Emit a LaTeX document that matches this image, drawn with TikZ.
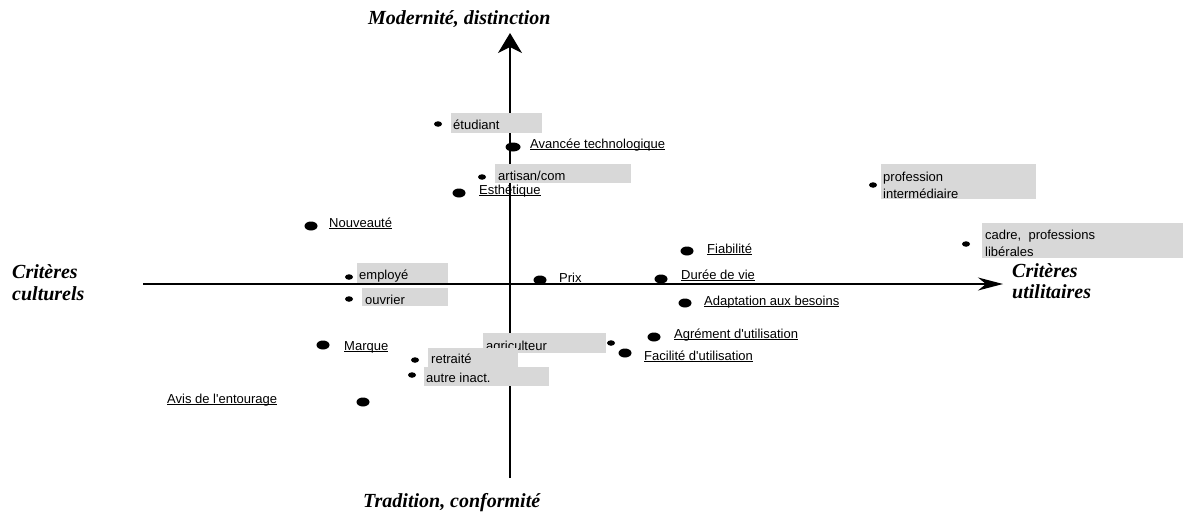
\documentclass[tikz,border=0pt]{standalone}
\usepackage{fontspec}
\setmainfont{Liberation Sans}
\newfontfamily\axisfont{Liberation Serif}
\usetikzlibrary{arrows.meta,shapes.geometric}
\newcommand\ulin[1]{\setbox0\hbox{#1}\rlap{\rule[-2.2pt]{\wd0}{0.9pt}}\box0}
\newcommand\apos{\textquotesingle}
\definecolor{boxgray}{RGB}{216,216,216}
\tikzset{
  lab/.style={anchor=base west, inner sep=0pt, font=\fontsize{13}{15}\selectfont},
  axlab/.style={anchor=base west, inner sep=0pt, font=\axisfont\bfseries\itshape\fontsize{20}{22}\selectfont},
  bigdot/.style={ellipse, fill=black, inner sep=0pt, minimum width=13pt, minimum height=9pt},
  smalldot/.style={ellipse, fill=black, inner sep=0pt, minimum width=8pt, minimum height=5.5pt},
  axisline/.style={line width=1.5pt},
  graybox/.style={fill=boxgray},
}
\begin{document}
\begin{tikzpicture}[x=1pt,y=-1pt]
\useasboundingbox (0,0) rectangle (1183,519);
% axes
\coordinate (xl) at (143,284);
\coordinate (xr) at (1003,284);
\coordinate (yb) at (510,478);
\coordinate (yt) at (510,33);
\draw[axisline,-{Stealth[length=25pt,width=13pt,inset=8pt]}] (xl) -- (xr);
\draw[axisline,-{Stealth[length=20pt,width=24pt,inset=6pt]}] (yb) -- (yt);
% axis labels
\node[axlab] (top) at (368,25) {Modernité, distinction};
\node[axlab] (bot) at (363,507) {Tradition, conformité};
\node[axlab] (l1) at (12,278) {Critères};
\node[axlab] (l2) at (12,300) {culturels};
\node[axlab] (r1) at (1012,277) {Critères};
\node[axlab] (r2) at (1012,298) {utilitaires};
% gray boxes (social categories)
\fill[graybox] (451,113) rectangle (542,133);
\node[lab] (t-etu) at (453,129) {étudiant};
\fill[graybox] (495,164) rectangle (631,183);
\node[lab] (t-art) at (498,180) {artisan/com};
\fill[graybox] (357,263) rectangle (448,283);
\node[lab] (t-emp) at (359,279) {employé};
\fill[graybox] (362,288) rectangle (448,306);
\node[lab] (t-ouv) at (365,304) {ouvrier};
\fill[graybox] (483,333) rectangle (606,353);
\node[lab] (t-agri) at (486,350) {agriculteur};
\fill[graybox] (428,348) rectangle (518,367);
\node[lab] (t-ret) at (431,363) {retraité};
\fill[graybox] (424,367) rectangle (549,386);
\node[lab] (t-aut) at (426,382) {autre inact.};
\fill[graybox] (881,164) rectangle (1036,199);
\node[lab] (t-prof1) at (883,181) {profession};
\node[lab] (t-prof2) at (883,198) {intermédiaire};
\fill[graybox] (982,223) rectangle (1183,258);
\node[lab] (t-cad1) at (985,239) {cadre,\ \ professions};
\node[lab] (t-cad2) at (985,256) {libérales};
% criteria labels (underlined)
\node[lab] (t-avt) at (530,148) {\ulin{Avancée technologique}};
\node[lab] (t-est) at (479,194) {\ulin{Esthétique}};
\node[lab] (t-nou) at (329,227) {\ulin{Nouveauté}};
\node[lab] (t-prix) at (559,282) {\ulin{Prix}};
\node[lab] (t-duree) at (681,279) {\ulin{Durée de vie}};
\node[lab] (t-fia) at (707,253) {\ulin{Fiabilité}};
\node[lab] (t-adapt) at (704,305) {\ulin{Adaptation aux besoins}};
\node[lab] (t-agr) at (674,338) {\ulin{Agrément d\apos utilisation}};
\node[lab] (t-fac) at (644,360) {\ulin{Facilité d\apos utilisation}};
\node[lab] (t-marq) at (344,350) {\ulin{Marque}};
\node[lab] (t-avis) at (167,403) {\ulin{Avis de l\apos entourage}};
% dots
\node[smalldot] (d-etu) at (438,124) {};
\node[bigdot, minimum width=15pt] (d-avt) at (513,147) {};
\node[smalldot] (d-art) at (482,177) {};
\node[bigdot] (d-est) at (459,193) {};
\node[bigdot] (d-nou) at (311,226) {};
\node[smalldot] (d-emp) at (349,277) {};
\node[smalldot] (d-ouv) at (349,299) {};
\node[bigdot] (d-prix) at (540,280) {};
\node[bigdot] (d-duree) at (661,279) {};
\node[bigdot] (d-fia) at (687,251) {};
\node[bigdot] (d-adapt) at (685,303) {};
\node[bigdot] (d-agr) at (654,337) {};
\node[bigdot] (d-fac) at (625,353) {};
\node[smalldot] (d-agri) at (611,343) {};
\node[smalldot] (d-ret) at (415,360) {};
\node[smalldot] (d-aut) at (412,375) {};
\node[bigdot] (d-marq) at (323,345) {};
\node[bigdot] (d-avis) at (363,402) {};
\node[smalldot] (d-prof) at (873,185) {};
\node[smalldot] (d-cad) at (966,244) {};
\end{tikzpicture}
\end{document}
